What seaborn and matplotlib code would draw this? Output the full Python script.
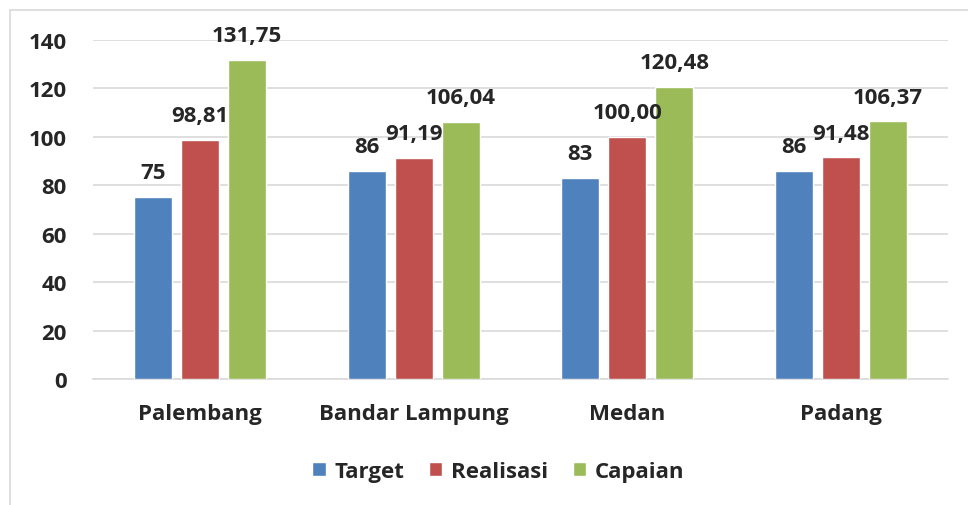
import pandas as pd
import matplotlib.pyplot as plt
import seaborn as sns
from matplotlib.lines import Line2D
from matplotlib.patches import Patch

# data
kota = ['Palembang', 'Bandar Lampung', 'Medan', 'Padang']
target = [75, 86, 83, 86]
realisasi = [98.81, 91.19, 100.00, 91.48]
capaian = [131.75, 106.04, 120.48, 106.37]
seri = ['Target', 'Realisasi', 'Capaian']
warna = ['#4F81BD', '#C0504D', '#9BBB59']
desimal = [0, 2, 2]

df = pd.DataFrame({'kota': kota * 3,
                   'nilai': target + realisasi + capaian,
                   'seri': [s for s in seri for _ in kota]})

sns.set_style('white')
plt.rcParams['font.family'] = ['Open Sans', 'DejaVu Sans']
plt.rcParams['font.weight'] = 'bold'
fs = 16

fig = plt.figure(figsize=(9.68, 5.06), dpi=100)
ax = fig.add_axes([0.0961, 0.249, 0.883, 0.670])

sns.barplot(data=df, x='kota', y='nilai', hue='seri', palette=warna,
            saturation=1, width=0.66, gap=0.19, ax=ax, legend=False, zorder=3)

# label nilai di atas batang
for cont, d in zip(ax.containers, desimal):
    lab = [f'{v:.{d}f}'.replace('.', ',') for v in cont.datavalues]
    ax.bar_label(cont, labels=lab, padding=10, fontsize=fs, fontweight='bold')

ax.set_ylim(0, 140)
ax.set_yticks(range(0, 141, 20))
ax.set_xlim(-0.5, 3.5)
ax.yaxis.grid(True, color='#D9D9D9', linewidth=1.2, zorder=0)
ax.set_axisbelow(True)
for s in ['top', 'right', 'left']:
    ax.spines[s].set_visible(False)
ax.spines['bottom'].set_color('#D9D9D9')
ax.spines['bottom'].set_linewidth(1.2)
ax.set_xlabel('')
ax.set_ylabel('')
ax.tick_params(axis='y', labelsize=fs, pad=19, length=0)
ax.tick_params(axis='x', labelsize=fs, pad=17, length=0)
for t in ax.get_xticklabels() + ax.get_yticklabels():
    t.set_fontweight('bold')

handles = [Patch(facecolor=c, label=s) for c, s in zip(warna, seri)]
fig.legend(handles=handles, loc='center', bbox_to_anchor=(0.515, 0.066),
           ncol=3, frameon=False, handlelength=0.6,
           handleheight=0.6, handletextpad=0.4, columnspacing=1.1,
           prop={'weight': 'bold', 'size': fs})

# bingkai chart (kiri dan atas)
fig.add_artist(Line2D([10 / 968, 10 / 968], [0, 1 - 11 / 506], color='#D9D9D9', lw=1.2))
fig.add_artist(Line2D([10 / 968, 1], [1 - 11 / 506, 1 - 11 / 506], color='#D9D9D9', lw=1.2))

plt.savefig('out.png', dpi=100)
